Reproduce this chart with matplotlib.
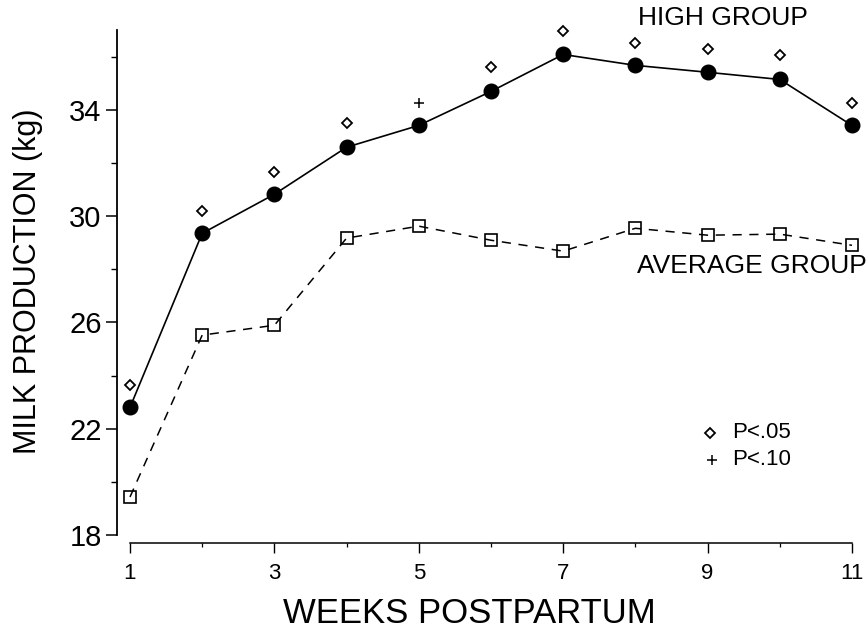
import matplotlib
matplotlib.use('Agg')
import matplotlib.pyplot as plt
from matplotlib.ticker import MultipleLocator

plt.rcParams['font.family'] = ['Liberation Sans', 'DejaVu Sans']

# weeks postpartum
weeks = [1, 2, 3, 4, 5, 6, 7, 8, 9, 10, 11]

# milk production (kg)
high_group = [22.8, 29.35, 30.82, 32.59, 33.41, 34.69, 36.08, 35.67, 35.41, 35.14, 33.41]
average_group = [19.43, 25.52, 25.89, 29.17, 29.62, 29.09, 28.68, 29.54, 29.28, 29.32, 28.9]

# significance marks above the high group
sig05_weeks = [1, 2, 3, 4, 6, 7, 8, 9, 10, 11]
sig05_y = [23.64, 30.18, 31.65, 33.49, 35.6, 36.98, 36.5, 36.27, 36.05, 34.24]
sig10_weeks = [5]
sig10_y = [34.24]

fig = plt.figure(figsize=(8.66, 6.4), dpi=100)
ax = fig.add_axes([0.1351, 0.1641, 0.8568, 0.789])

ax.plot(weeks, high_group, '-', color='black', lw=1.2,
        marker='o', ms=10.5, mfc='black', mec='black', clip_on=False)
ax.plot(weeks, average_group, color='black', lw=1.1, dashes=(6, 5),
        marker='s', ms=8, mfc='none', mec='black', mew=1.2, clip_on=False)
ax.plot(sig05_weeks, sig05_y, ls='', marker='D', ms=5,
        mfc='white', mec='black', mew=1.3, clip_on=False)
ax.plot(sig10_weeks, sig10_y, ls='', marker='+', ms=7,
        mec='black', mew=1.1, clip_on=False)

ax.set_xlim(0.82, 11.097)
ax.set_ylim(18, 37)

for side in ['top', 'right']:
    ax.spines[side].set_visible(False)
ax.spines['left'].set_bounds(18, 37)
ax.spines['left'].set_linewidth(1.3)
ax.spines['bottom'].set_position(('outward', 6))
ax.spines['bottom'].set_bounds(1, 11)
ax.spines['bottom'].set_linewidth(1.1)

ax.set_xticks([1, 3, 5, 7, 9, 11])
ax.xaxis.set_minor_locator(MultipleLocator(1))
ax.set_yticks([18, 22, 26, 30, 34])
ax.yaxis.set_minor_locator(MultipleLocator(2))
ax.tick_params(axis='y', which='major', length=8, width=1.1, pad=3, labelsize=21)
ax.tick_params(axis='y', which='minor', length=4, width=1.0)
ax.tick_params(axis='x', which='major', length=7, width=1.0, pad=7, labelsize=16)
ax.tick_params(axis='x', which='minor', length=3, width=0.9)

fig.text(0.0323, 0.561, 'MILK PRODUCTION (kg)', rotation=90,
         ha='center', va='center', fontsize=22)
fig.text(0.5416, 0.042, 'WEEKS POSTPARTUM', ha='center', va='center', fontsize=25)
fig.text(0.737, 0.972, 'HIGH GROUP', ha='left', va='center', fontsize=19)
fig.text(0.7356, 0.584, 'AVERAGE GROUP', ha='left', va='center', fontsize=19)

# key for the significance marks
ax.plot([0.799], [0.202], transform=ax.transAxes, marker='D', ms=5,
        mfc='white', mec='black', mew=1.3, clip_on=False)
ax.text(0.829, 0.202, 'P<.05', transform=ax.transAxes, ha='left', va='center', fontsize=16)
ax.plot([0.802], [0.1485], transform=ax.transAxes, marker='+', ms=7,
        mec='black', mew=1.1, clip_on=False)
ax.text(0.829, 0.1485, 'P<.10', transform=ax.transAxes, ha='left', va='center', fontsize=16)

fig.savefig('out.png', dpi=100)
